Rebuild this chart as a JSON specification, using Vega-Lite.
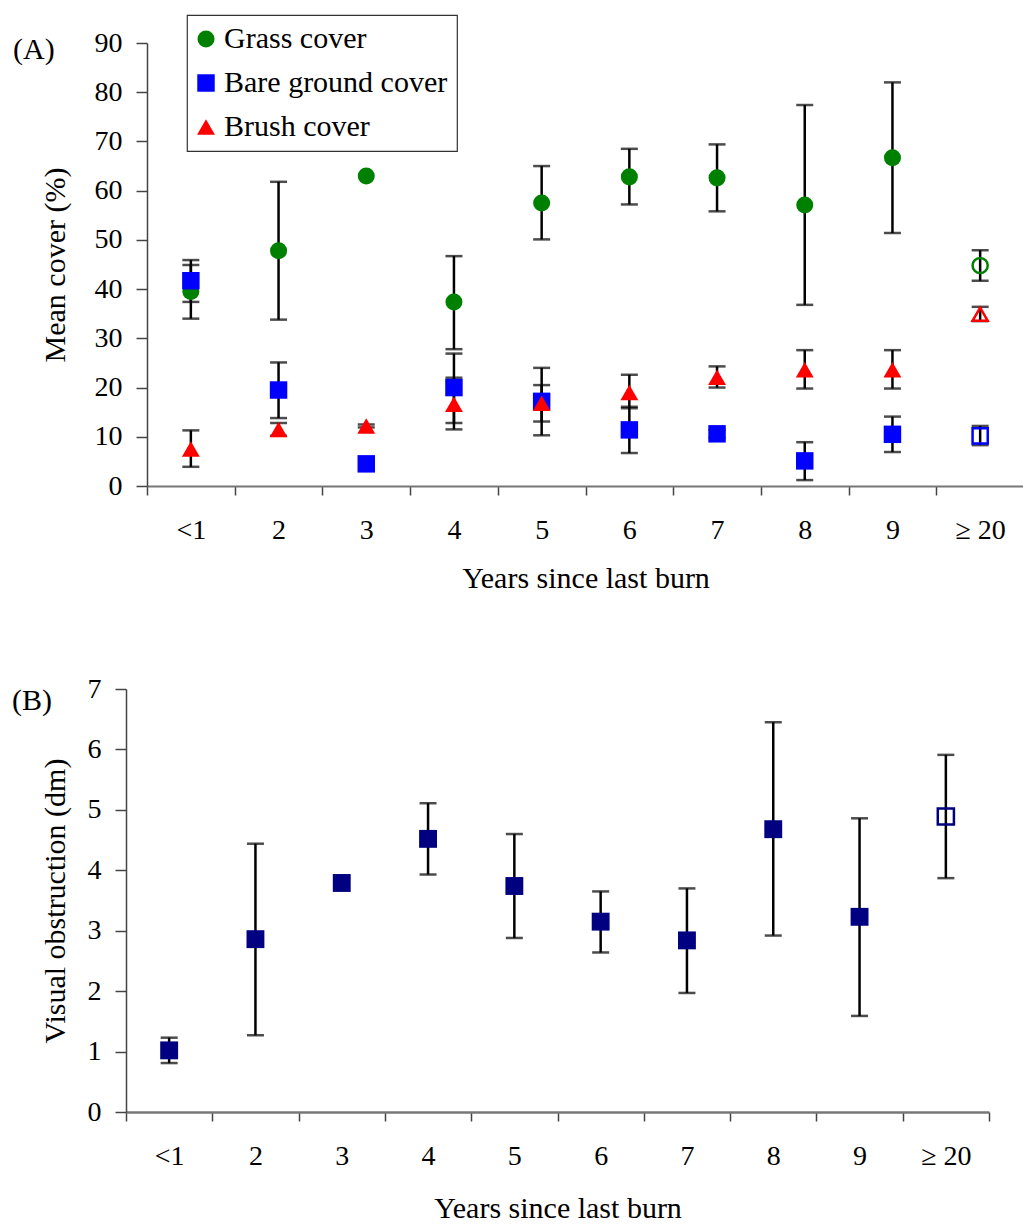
{
  "$schema": "https://vega.github.io/schema/vega-lite/v6.json",
  "background": "white",
  "padding": {"left": 12, "top": 14, "right": 0, "bottom": 0},
  "config": {
    "view": {"stroke": null},
    "font": "Liberation Serif",
    "axis": {
      "labelFont": "Liberation Serif", "titleFont": "Liberation Serif",
      "labelFontSize": 28, "titleFontSize": 30, "titleFontWeight": "normal",
      "labelColor": "black", "titleColor": "black", "grid": false,
      "domainColor": "#444", "tickColor": "#444", "domainWidth": 1.5, "tickWidth": 1.5
    },
    "legend": {
      "labelFont": "Liberation Serif", "labelFontSize": 30, "labelColor": "black",
      "strokeColor": "#333", "strokeWidth": 1.2, "fillColor": "white",
      "padding": 9, "rowPadding": 14, "labelOffset": 3, "symbolOffset": -5, "symbolSize": 300,
      "symbolStrokeWidth": 0, "labelLimit": 400
    }
  },
  "datasets": {
    "cover": [
      {"year": "<1", "series": "Grass cover", "mean": 39.5, "lo": 34.0, "hi": 44.9},
      {"year": "2", "series": "Grass cover", "mean": 47.8, "lo": 33.8, "hi": 61.8},
      {"year": "3", "series": "Grass cover", "mean": 63.0, "lo": null, "hi": null},
      {"year": "4", "series": "Grass cover", "mean": 37.4, "lo": 27.8, "hi": 46.7},
      {"year": "5", "series": "Grass cover", "mean": 57.5, "lo": 50.1, "hi": 65.0},
      {"year": "6", "series": "Grass cover", "mean": 62.8, "lo": 57.2, "hi": 68.5},
      {"year": "7", "series": "Grass cover", "mean": 62.6, "lo": 55.8, "hi": 69.4},
      {"year": "8", "series": "Grass cover", "mean": 57.1, "lo": 36.8, "hi": 77.4},
      {"year": "9", "series": "Grass cover", "mean": 66.7, "lo": 51.4, "hi": 82.0},
      {"year": "≥ 20", "series": "Grass cover", "mean": 44.8, "lo": 41.7, "hi": 47.9},
      {"year": "<1", "series": "Bare ground cover", "mean": 41.7, "lo": 37.4, "hi": 45.9},
      {"year": "2", "series": "Bare ground cover", "mean": 19.5, "lo": 13.8, "hi": 25.1},
      {"year": "3", "series": "Bare ground cover", "mean": 4.5, "lo": null, "hi": null},
      {"year": "4", "series": "Bare ground cover", "mean": 20.0, "lo": 12.8, "hi": 26.9},
      {"year": "5", "series": "Bare ground cover", "mean": 17.2, "lo": 10.3, "hi": 24.0},
      {"year": "6", "series": "Bare ground cover", "mean": 11.4, "lo": 6.7, "hi": 16.1},
      {"year": "7", "series": "Bare ground cover", "mean": 10.6, "lo": 9.8, "hi": 11.4},
      {"year": "8", "series": "Bare ground cover", "mean": 5.1, "lo": 1.2, "hi": 8.9},
      {"year": "9", "series": "Bare ground cover", "mean": 10.5, "lo": 6.9, "hi": 14.1},
      {"year": "≥ 20", "series": "Bare ground cover", "mean": 10.2, "lo": 8.3, "hi": 12.2},
      {"year": "<1", "series": "Brush cover", "mean": 7.5, "lo": 3.9, "hi": 11.3},
      {"year": "2", "series": "Brush cover", "mean": 11.5, "lo": 10.2, "hi": 12.8},
      {"year": "3", "series": "Brush cover", "mean": 12.2, "lo": 11.9, "hi": 12.5},
      {"year": "4", "series": "Brush cover", "mean": 16.6, "lo": 11.5, "hi": 22.0},
      {"year": "5", "series": "Brush cover", "mean": 16.8, "lo": 13.1, "hi": 20.5},
      {"year": "6", "series": "Brush cover", "mean": 19.0, "lo": 15.8, "hi": 22.6},
      {"year": "7", "series": "Brush cover", "mean": 22.1, "lo": 20.0, "hi": 24.3},
      {"year": "8", "series": "Brush cover", "mean": 23.6, "lo": 19.8, "hi": 27.6},
      {"year": "9", "series": "Brush cover", "mean": 23.6, "lo": 19.8, "hi": 27.6},
      {"year": "≥ 20", "series": "Brush cover", "mean": 34.9, "lo": 33.5, "hi": 36.4}
    ],
    "obstruction": [
      {"year": "<1", "mean": 1.02, "lo": 0.81, "hi": 1.23},
      {"year": "2", "mean": 2.86, "lo": 1.27, "hi": 4.44},
      {"year": "3", "mean": 3.79, "lo": null, "hi": null},
      {"year": "4", "mean": 4.52, "lo": 3.93, "hi": 5.11},
      {"year": "5", "mean": 3.74, "lo": 2.88, "hi": 4.60},
      {"year": "6", "mean": 3.15, "lo": 2.64, "hi": 3.65},
      {"year": "7", "mean": 2.84, "lo": 1.97, "hi": 3.70},
      {"year": "8", "mean": 4.68, "lo": 2.92, "hi": 6.45},
      {"year": "9", "mean": 3.23, "lo": 1.59, "hi": 4.86},
      {"year": "≥ 20", "mean": 4.89, "lo": 3.87, "hi": 5.91}
    ]
  },
  "spacing": 82,
  "vconcat": [
    {
      "title": {"text": "(A)", "anchor": "start", "frame": "group", "orient": "top", "offset": -16, "dx": -134, "dy": 44, "fontSize": 30, "fontWeight": "normal", "font": "Liberation Serif", "baseline": "alphabetic", "color": "black"},
      "width": 877,
      "height": 443,
      "data": {"name": "cover"},
      "encoding": {
        "x": {
          "field": "year", "type": "nominal",
          "sort": ["<1", "2", "3", "4", "5", "6", "7", "8", "9", "≥ 20"],
          "scale": {"type": "band", "paddingInner": 0, "paddingOuter": 0},
          "axis": {"title": "Years since last burn", "labelAngle": 0, "tickBand": "extent", "tickSize": 9, "labelPadding": 21, "titlePadding": 19, "domainColor": "#777", "domainWidth": 2}
        }
      },
      "layer": [
        {
          "transform": [{"filter": "isValid(datum.lo)"}],
          "mark": {"type": "errorbar", "ticks": true, "size": 17, "thickness": 2.5, "color": "black"},
          "encoding": {
            "y": {"field": "lo", "type": "quantitative", "scale": {"domain": [0, 90], "nice": false}, "axis": {"title": "Mean cover (%)", "values": [0, 10, 20, 30, 40, 50, 60, 70, 80, 90], "tickSize": 11, "labelPadding": 14, "titlePadding": 24}},
            "y2": {"field": "hi"}
          }
        },
        {
          "transform": [{"filter": "datum.year !== '≥ 20'"}],
          "mark": {"type": "point", "filled": true, "opacity": 1},
          "encoding": {
            "y": {"field": "mean", "type": "quantitative"},
            "color": {"field": "series", "type": "nominal", "scale": {"domain": ["Grass cover", "Bare ground cover", "Brush cover"], "range": ["#008000", "#0000FF", "#FF0000"]}, "legend": {"title": null, "orient": "none", "legendX": 40, "legendY": -28}},
            "shape": {"field": "series", "type": "nominal", "scale": {"domain": ["Grass cover", "Bare ground cover", "Brush cover"], "range": ["circle", "square", "triangle-up"]}, "legend": {"title": null, "orient": "none", "legendX": 40, "legendY": -28}},
            "size": {"field": "series", "type": "nominal", "scale": {"domain": ["Grass cover", "Bare ground cover", "Brush cover"], "range": [290, 320, 420]}, "legend": {"title": null, "orient": "none", "legendX": 40, "legendY": -28}}
          }
        },
        {
          "transform": [{"filter": "datum.year === '≥ 20'"}],
          "mark": {"type": "point", "filled": false, "opacity": 1, "size": 230, "strokeWidth": 2.5},
          "encoding": {
            "y": {"field": "mean", "type": "quantitative"},
            "stroke": {"field": "series", "type": "nominal", "scale": {"domain": ["Grass cover", "Bare ground cover", "Brush cover"], "range": ["#008000", "#0000FF", "#FF0000"]}, "legend": null},
            "shape": {"field": "series", "type": "nominal", "legend": null}
          }
        }
      ]
    },
    {
      "title": {"text": "(B)", "anchor": "start", "frame": "group", "orient": "top", "offset": -19, "dx": -135, "dy": 46, "fontSize": 30, "fontWeight": "normal", "font": "Liberation Serif", "baseline": "alphabetic", "color": "black"},
      "width": 842,
      "height": 423,
      "data": {"name": "obstruction"},
      "encoding": {
        "x": {
          "field": "year", "type": "nominal",
          "sort": ["<1", "2", "3", "4", "5", "6", "7", "8", "9", "≥ 20"],
          "scale": {"type": "band", "paddingInner": 0, "paddingOuter": 0, "range": [-21, 842]},
          "axis": {"title": "Years since last burn", "labelAngle": 0, "tickBand": "extent", "tickSize": 9, "labelPadding": 21, "titlePadding": 23, "domainColor": "#777", "domainWidth": 2.5}
        }
      },
      "layer": [
        {
          "transform": [{"filter": "isValid(datum.lo)"}],
          "mark": {"type": "errorbar", "ticks": true, "size": 17, "thickness": 2.5, "color": "black"},
          "encoding": {
            "y": {"field": "lo", "type": "quantitative", "scale": {"domain": [0, 7], "nice": false}, "axis": {"title": "Visual obstruction (dm)", "values": [0, 1, 2, 3, 4, 5, 6, 7], "format": "d", "offset": 21, "tickSize": 11, "labelPadding": 14, "titlePadding": 17}},
            "y2": {"field": "hi"}
          }
        },
        {
          "transform": [{"filter": "datum.year !== '≥ 20'"}],
          "mark": {"type": "point", "shape": "square", "filled": true, "opacity": 1, "size": 320, "color": "#000080"},
          "encoding": {"y": {"field": "mean", "type": "quantitative"}}
        },
        {
          "transform": [{"filter": "datum.year === '≥ 20'"}],
          "mark": {"type": "point", "shape": "square", "filled": false, "opacity": 1, "size": 260, "strokeWidth": 2.5, "color": "#000080"},
          "encoding": {"y": {"field": "mean", "type": "quantitative"}}
        }
      ]
    }
  ]
}
